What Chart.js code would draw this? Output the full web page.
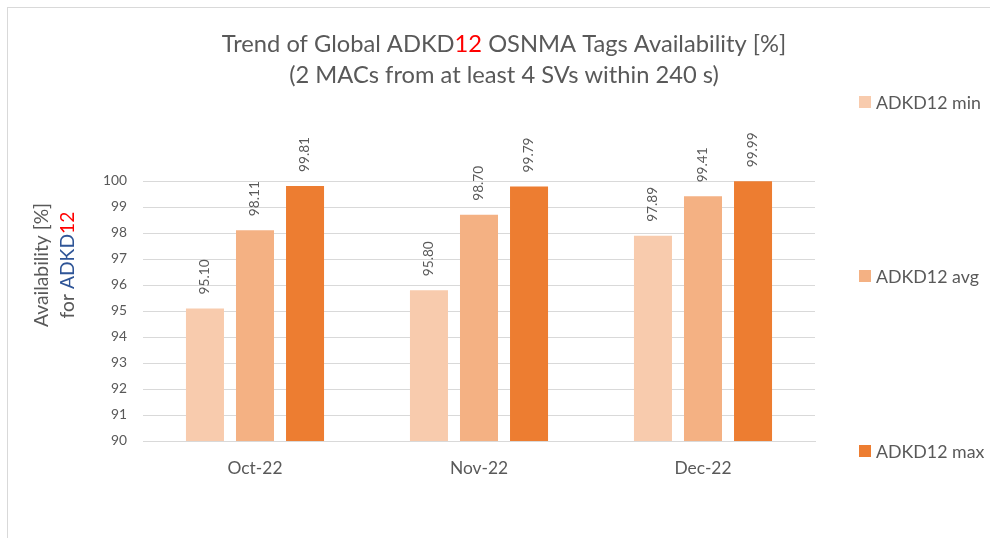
<!DOCTYPE html>
<html>
<head>
<meta charset="utf-8">
<script src="https://cdn.jsdelivr.net/npm/chart.js@4"></script>
<style>
  html, body { margin: 0; padding: 0; background: #fff; }
  canvas { display: block; }
</style>
</head>
<body>
<canvas id="tagsChart" width="990" height="538"></canvas>
<script>
'use strict';

const months = ['Oct-22', 'Nov-22', 'Dec-22'];
const seriesNames = ['ADKD12 min', 'ADKD12 avg', 'ADKD12 max'];
const adkdMin = [95.10, 95.80, 97.89];
const adkdAvg = [98.11, 98.70, 99.41];
const adkdMax = [99.81, 99.79, 99.99];
const yTicks = [90, 91, 92, 93, 94, 95, 96, 97, 98, 99, 100];

const FAMILY = 'Lato';
const FONT = 'Lato, "Open Sans", sans-serif';
const GREY = '#595959';
const RED = '#ff0000';
const BLUE = '#2f5597';
const colors = ['#f8cbad', '#f4b183', '#ed7d31'];

// pick a font size so that a sample string comes out at the wanted width
const measureCtx = document.createElement('canvas').getContext('2d');
function sizeFor(sample, width) {
	measureCtx.font = '20px ' + FONT;
	return Math.round(20 * width / measureCtx.measureText(sample).width * 10) / 10;
}
const titleSize = sizeFor('Trend of Global ADKD12 OSNMA Tags Availability [%]', 564);
const axisTitleSize = sizeFor('Availability [%]', 124);
const legendSize = sizeFor('ADKD12 min', 105);
const xTickSize = sizeFor('Oct-22', 55);
const yTickSize = sizeFor('100', 24);
const valueSize = sizeFor('99.81', 35);

// draw a line made of differently coloured pieces, centred on x
function drawPieces(ctx, pieces, x, y) {
	let total = 0;
	pieces.forEach(p => { total += ctx.measureText(p[0]).width; });
	let cx = x - total / 2;
	ctx.textAlign = 'left';
	pieces.forEach(p => {
		ctx.fillStyle = p[1];
		ctx.fillText(p[0], cx, y);
		cx += ctx.measureText(p[0]).width;
	});
}

const frame = {
	id: 'frame',
	beforeDraw(chart) {
		const ctx = chart.ctx;
		ctx.save();
		ctx.fillStyle = '#fff';
		ctx.fillRect(0, 0, chart.width, chart.height);
		ctx.strokeStyle = '#d9d9d9';
		ctx.lineWidth = 1;
		ctx.strokeRect(7.5, 7.5, chart.width + 20, chart.height + 20);
		ctx.restore();
	}
};

const headings = {
	id: 'headings',
	afterDraw(chart) {
		const ctx = chart.ctx;
		ctx.save();
		ctx.textBaseline = 'middle';
		ctx.font = titleSize + 'px ' + FONT;
		drawPieces(ctx, [['Trend of Global ADKD', GREY], ['12', RED], [' OSNMA Tags Availability [%]', GREY]], 504, 44);
		drawPieces(ctx, [['(2 MACs from at least 4 SVs within 240 s)', GREY]], 504, 75);

		// y axis title, two rotated lines
		ctx.font = axisTitleSize + 'px ' + FONT;
		ctx.translate(0, 265);
		ctx.rotate(-Math.PI / 2);
		drawPieces(ctx, [['Availability [%]', GREY]], 0, 42);
		drawPieces(ctx, [['for ', GREY], ['ADKD', BLUE], ['12', RED]], 0, 68);
		ctx.restore();
	}
};

const sideLegend = {
	id: 'sideLegend',
	afterDraw(chart) {
		const ctx = chart.ctx;
		const rows = [102, 276, 451];
		ctx.save();
		ctx.font = legendSize + 'px ' + FONT;
		ctx.textBaseline = 'middle';
		ctx.textAlign = 'left';
		chart.data.datasets.forEach((ds, i) => {
			ctx.fillStyle = ds.backgroundColor;
			ctx.fillRect(859, rows[i] - 6, 12, 12);
			ctx.fillStyle = GREY;
			ctx.fillText(ds.label, 876, rows[i] + 1);
		});
		ctx.restore();
	}
};

// values written upright above each bar
const valueLabels = {
	id: 'valueLabels',
	afterDatasetsDraw(chart) {
		const ctx = chart.ctx;
		ctx.save();
		ctx.font = valueSize + 'px ' + FONT;
		ctx.fillStyle = GREY;
		ctx.textAlign = 'left';
		ctx.textBaseline = 'middle';
		chart.data.datasets.forEach((ds, i) => {
			chart.getDatasetMeta(i).data.forEach((bar, j) => {
				ctx.save();
				ctx.translate(bar.x, bar.y - 14);
				ctx.rotate(-Math.PI / 2);
				ctx.fillText(ds.data[j].toFixed(2), 0, 0);
				ctx.restore();
			});
		});
		ctx.restore();
	}
};

const ctx = document.getElementById('tagsChart').getContext('2d');
new Chart(ctx, {
	type: 'bar',
	data: {
		labels: months,
		datasets: [adkdMin, adkdAvg, adkdMax].map((d, i) => ({
			label: seriesNames[i],
			data: d,
			backgroundColor: colors[i],
			categoryPercentage: 0.67,
			barPercentage: 0.76
		}))
	},
	options: {
		responsive: false,
		animation: false,
		layout: { padding: { top: 181, right: 175, bottom: 0, left: 0 } },
		plugins: {
			legend: { display: false },
			title: { display: false },
			tooltip: { enabled: false }
		},
		scales: {
			x: {
				grid: { display: false, drawTicks: false },
				border: { color: '#d9d9d9' },
				ticks: { color: GREY, font: { family: FAMILY, size: xTickSize }, padding: 17 },
				afterFit(s) { s.height = 97; }
			},
			y: {
				min: yTicks[0],
				max: yTicks[yTicks.length - 1],
				afterBuildTicks(s) { s.ticks = yTicks.map(v => ({ value: v })); },
				grid: { color: '#d9d9d9', drawTicks: false },
				border: { display: false },
				ticks: { color: GREY, font: { family: FAMILY, size: yTickSize }, padding: 16 },
				afterFit(s) { s.width = 143; }
			}
		}
	},
	plugins: [frame, valueLabels, headings, sideLegend]
});
</script>
</body>
</html>
